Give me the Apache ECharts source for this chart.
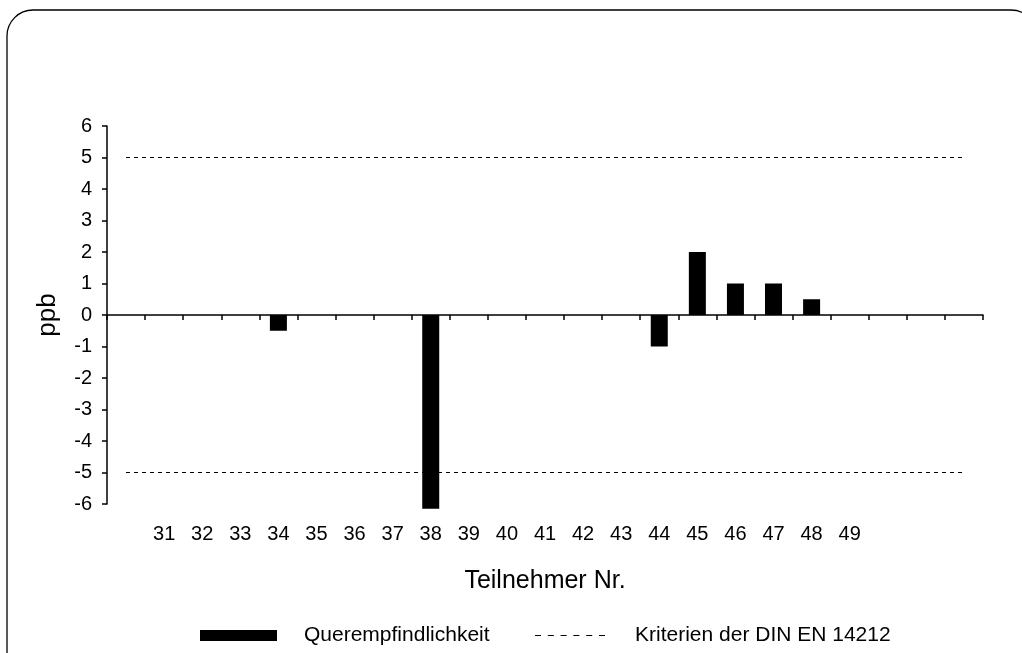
<!DOCTYPE html>
<html><head><meta charset="utf-8">
<script src="https://cdn.jsdelivr.net/npm/echarts@6/dist/echarts.min.js"></script>
<style>html,body{margin:0;padding:0;background:#fff}#c{width:1022px;height:653px}</style>
</head><body><div id="c"></div>
<script>
const categories = ['', '31','32','33','34','35','36','37','38','39','40','41','42','43','44','45','46','47','48','49','','',''];
const queremp = [null,null,null,null,-0.5,null,null,null,-6.15,null,null,null,null,null,-1,2,1,1,0.5,null,null,null,null];
const upperLimit = 5;
const lowerLimit = -5;

const upper = categories.map(() => upperLimit);
const lower = categories.map(() => lowerLimit);
const font = 'Liberation Sans, Arial, sans-serif';
const dashIcon = 'path://M0,0h6v1h-6zM12.8,0h6v1h-6zM25.6,0h6v1h-6zM38.4,0h6v1h-6zM51.2,0h6v1h-6zM64,0h6v1h-6z';

const chart = echarts.init(document.getElementById('c'));
chart.setOption({
  animation: false,
  backgroundColor: '#fff',
  graphic: [{
    type: 'rect', shape: {x: 7, y: 10, width: 1030, height: 670, r: 26},
    style: {fill: 'none', stroke: '#000', lineWidth: 1.3}, z: -1
  }],
  grid: {left: 107, right: 39, top: 126, bottom: 149, containLabel: false},
  xAxis: [{
    type: 'category', data: categories, position: 'bottom',
    axisLine: {onZero: true, lineStyle: {color: '#000', width: 1.5}},
    axisTick: {show: true, length: 5, inside: false, lineStyle: {color: '#000', width: 1.5}},
    axisLabel: {show: false}, splitLine: {show: false}
  }, {
    type: 'category', data: categories, position: 'bottom', gridIndex: 0,
    axisLine: {show: false, onZero: false}, axisTick: {show: false},
    axisLabel: {show: true, interval: 0, margin: 20, color: '#000', fontSize: 20, fontFamily: font},
    name: 'Teilnehmer Nr.', nameLocation: 'middle', nameGap: 65,
    nameTextStyle: {color: '#000', fontSize: 25, fontFamily: font}
  }],
  yAxis: {
    type: 'value', min: -6, max: 6, interval: 1,
    axisLine: {show: true, onZero: false, lineStyle: {color: '#000', width: 1.5}},
    axisTick: {show: true, length: 5, lineStyle: {color: '#000', width: 1.5}},
    axisLabel: {color: '#000', fontSize: 20, fontFamily: font, margin: 15},
    splitLine: {show: false},
    name: 'ppb', nameLocation: 'middle', nameGap: 46, nameRotate: 90,
    nameTextStyle: {color: '#000', fontSize: 26, fontFamily: font}
  },
  legend: [{
    top: 620, left: 195, itemWidth: 77, itemHeight: 11,
    textStyle: {color: '#000', fontSize: 21, fontFamily: font, padding: [0,0,0,22]},
    data: [{name: 'Querempfindlichkeit', icon: 'rect'}]
  }, {
    top: 620, left: 530, itemWidth: 70, itemHeight: 1.5,
    textStyle: {color: '#000', fontSize: 21, fontFamily: font, padding: [0,0,0,25]},
    data: [{name: 'Kriterien der DIN EN 14212', icon: dashIcon}]
  }],
  series: [{
    name: 'Querempfindlichkeit', type: 'bar', data: queremp, barWidth: 17, clip: false,
    itemStyle: {color: '#000'}
  }, {
    name: 'Kriterien der DIN EN 14212', type: 'line', data: upper, symbol: 'none',
    lineStyle: {color: '#000', width: 1, type: [4, 4]}, itemStyle: {color: '#000'}
  }, {
    name: 'Kriterien der DIN EN 14212', type: 'line', data: lower, symbol: 'none',
    lineStyle: {color: '#000', width: 1, type: [4, 4]}, itemStyle: {color: '#000'}
  }]
});
</script></body></html>
